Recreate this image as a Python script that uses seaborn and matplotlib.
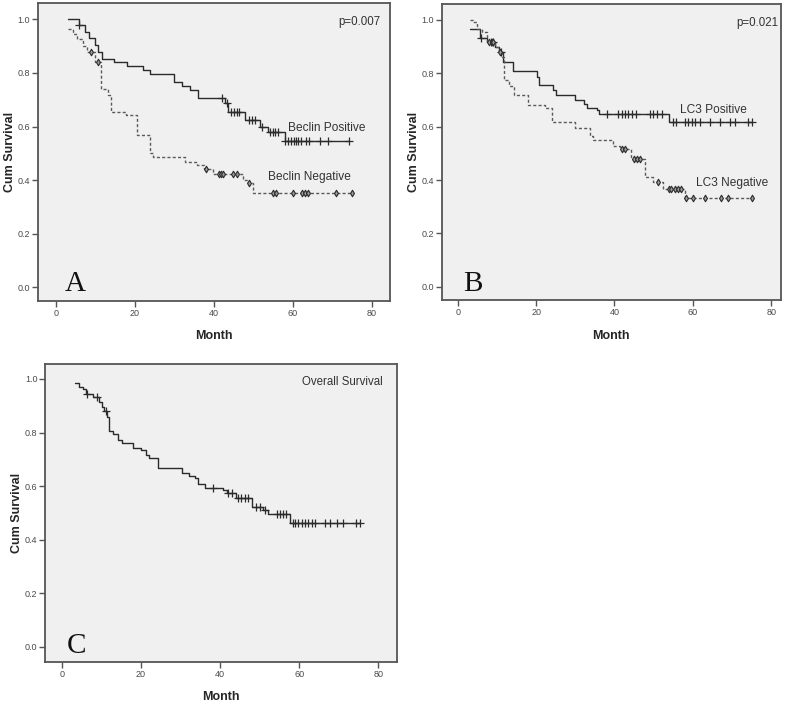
import numpy as np
import pandas as pd
import matplotlib
matplotlib.use("Agg")
import matplotlib.pyplot as plt
import seaborn as sns

sns.set_style("ticks")
plt.rcParams['font.family'] = ['Liberation Sans', 'DejaVu Sans']

# ---- data (event times / survival after step, censor times) ----
# A: Beclin
beclin_pos_t = [3.2, 6.0, 7.4, 8.3, 10.0, 10.8, 11.6, 14.8, 18.1, 22.0, 23.9, 29.9, 31.9,
                34.0, 36.1, 42.8, 43.7, 47.9, 51.7, 53.8, 57.9]
beclin_pos_s = [1.0, 0.979, 0.954, 0.93, 0.905, 0.88, 0.854, 0.84, 0.826, 0.811, 0.796, 0.767,
                0.751, 0.736, 0.705, 0.687, 0.655, 0.624, 0.599, 0.578, 0.547]
beclin_pos_c = [6.0, 42.0, 43.3, 44.3, 45.1, 45.8, 46.5, 48.8, 49.6, 50.5, 52.2, 54.3, 55.0,
                55.6, 56.3, 58.1, 58.9, 59.5, 60.2, 60.8, 61.4, 62.0, 63.4, 64.2, 66.8, 68.8, 74.3]

beclin_neg_t = [3.2, 4.3, 5.5, 7.0, 8.0, 10.0, 11.5, 13.3, 13.9, 17.8, 20.5, 23.9, 24.6, 32.7,
                35.7, 37.5, 39.9, 47.5, 48.6, 50.0]
beclin_neg_s = [0.963, 0.945, 0.925, 0.9, 0.879, 0.842, 0.742, 0.717, 0.655, 0.643, 0.568, 0.5,
                0.487, 0.469, 0.456, 0.441, 0.423, 0.4, 0.389, 0.354]
beclin_neg_c = [8.9, 10.8, 38.0, 41.2, 41.9, 42.4, 44.9, 45.8, 49.0, 54.9, 55.8, 60.0, 62.3,
                63.1, 63.9, 70.9, 74.9]

# B: LC3
lc3_pos_t = [3.1, 5.7, 7.5, 9.5, 10.6, 11.6, 14.0, 20.2, 20.8, 24.4, 25.1, 29.9, 32.2, 32.9,
             35.5, 36.1, 54.0]
lc3_pos_s = [0.966, 0.933, 0.917, 0.898, 0.879, 0.842, 0.807, 0.786, 0.755, 0.736, 0.718, 0.699,
             0.687, 0.670, 0.662, 0.646, 0.616]
lc3_pos_c = [5.9, 8.4, 9.1, 11.0, 38.0, 41.0, 41.8, 42.7, 43.5, 44.4, 45.6, 49.1, 49.9, 50.8,
             52.1, 55.0, 55.7, 58.0, 58.8, 59.7, 60.5, 61.8, 64.4, 66.9, 69.5, 70.7, 74.1, 75.0]

lc3_neg_t = [3.1, 4.0, 4.85, 6.1, 7.5, 9.5, 10.4, 11.2, 11.8, 13.2, 14.4, 18.0, 22.3, 24.0,
             29.9, 33.7, 34.6, 39.7, 41.5, 44.1, 47.8, 49.9, 52.3, 58.0]
lc3_neg_s = [1.0, 0.991, 0.966, 0.954, 0.919, 0.898, 0.879, 0.861, 0.774, 0.751, 0.72, 0.683,
             0.672, 0.616, 0.597, 0.565, 0.55, 0.528, 0.516, 0.478, 0.413, 0.394, 0.366, 0.332]
lc3_neg_c = [8.0, 8.7, 9.1, 10.8, 41.8, 42.7, 45.1, 45.8, 46.5, 51.0, 53.9, 54.5, 55.4, 56.3,
             56.9, 58.2, 60.1, 63.1, 67.1, 69.1, 75.0]

# C: overall
all_t = [3.24, 4.3, 5.4, 6.0, 7.9, 9.4, 10.0, 10.6, 11.3, 11.9, 12.9, 14.2, 15.3, 18.0, 20.1,
         21.2, 22.1, 24.2, 30.3, 32.2, 33.6, 34.5, 36.2, 40.8, 41.8, 44.0, 48.0, 50.8, 52.2, 57.7]
all_s = [0.984, 0.97, 0.961, 0.944, 0.934, 0.915, 0.897, 0.882, 0.859, 0.806, 0.795, 0.772,
         0.762, 0.744, 0.735, 0.716, 0.707, 0.667, 0.648, 0.638, 0.629, 0.610, 0.595, 0.585,
         0.575, 0.557, 0.523, 0.511, 0.496, 0.464]
all_c = [6.2, 8.9, 11.1, 38.1, 42.1, 42.9, 44.6, 45.4, 46.3, 47.1, 49.2, 50.2, 51.3, 54.3,
         55.1, 56.0, 56.8, 58.4, 59.0, 59.8, 60.7, 61.5, 62.3, 63.2, 64.0, 66.5, 67.8, 69.5,
         71.1, 74.5, 75.4]

x_ticks = [0, 20, 40, 60, 80]
y_ticks = [0.0, 0.2, 0.4, 0.6, 0.8, 1.0]

FRAME = '#555555'
DARK = '#2b2b2b'
NEG = '#5a5a5a'


def km(ax, t, s, cens, dashed=False):
    end = max(max(cens), t[-1])
    df = pd.DataFrame({'Month': list(t) + [end], 'surv': list(s) + [s[-1]]})
    sns.lineplot(data=df, x='Month', y='surv', ax=ax, drawstyle='steps-post',
                 estimator=None, sort=False, color=NEG if dashed else DARK,
                 linewidth=1.0, linestyle=(0, (2.2, 1.6)) if dashed else '-')
    cy = np.array(s)[np.searchsorted(t, cens, side='right') - 1]
    if dashed:
        sns.scatterplot(x=cens, y=cy, ax=ax, marker='d', s=11, facecolor='#9a9a9a',
                        edgecolor=DARK, linewidth=0.8, zorder=3)
    else:
        sns.scatterplot(x=cens, y=cy, ax=ax, marker='+', s=30, color=DARK,
                        linewidth=0.9, zorder=3)


def style(ax, xlim, ylim):
    ax.set_facecolor('#f0f0f0')
    ax.set_xlim(*xlim)
    ax.set_ylim(*ylim)
    ax.set_xticks(x_ticks)
    ax.set_yticks(y_ticks)
    ax.set_yticklabels([f'{v:.1f}' for v in y_ticks])
    for sp in ax.spines.values():
        sp.set_visible(True)
        sp.set_color(FRAME)
        sp.set_linewidth(1.3)
    ax.tick_params(direction='out', length=4, width=1, color=FRAME, labelsize=6.5,
                   labelcolor='#4a4a4a', pad=1.5)
    ax.set_xlabel('Month', fontsize=9, fontweight='bold', labelpad=9)
    ax.set_ylabel('Cum Survival', fontsize=9, fontweight='bold', labelpad=1)


fig = plt.figure(figsize=(7.94, 7.05), dpi=100)
axA = fig.add_axes([0.0475, 0.573, 0.4437, 0.4223])
axB = fig.add_axes([0.5563, 0.5738, 0.4273, 0.4206])
axC = fig.add_axes([0.0567, 0.061, 0.443, 0.4227])

# A
km(axA, beclin_pos_t, beclin_pos_s, beclin_pos_c)
km(axA, beclin_neg_t, beclin_neg_s, beclin_neg_c, dashed=True)
style(axA, (-4.56, 84.6), (-0.051, 1.06))
axA.text(82.1, 0.99, 'p=0.007', ha='right', va='center', fontsize=8.3, color='#333333')
axA.text(58.9, 0.596, 'Beclin Positive', ha='left', va='center', fontsize=8.6, color='#333333')
axA.text(53.6, 0.413, 'Beclin Negative', ha='left', va='center', fontsize=8.6, color='#333333')
axA.text(2.4, -0.014, 'A', ha='left', va='baseline', fontsize=21,
         family='Liberation Serif', color='#111111')

# B
km(axB, lc3_pos_t, lc3_pos_s, lc3_pos_c)
km(axB, lc3_neg_t, lc3_neg_s, lc3_neg_c, dashed=True)
style(axB, (-4.1, 82.5), (-0.051, 1.06))
axB.text(81.8, 0.99, 'p=0.021', ha='right', va='center', fontsize=8.3, color='#333333')
axB.text(56.7, 0.664, 'LC3 Positive', ha='left', va='center', fontsize=8.6, color='#333333')
axB.text(60.8, 0.388, 'LC3 Negative', ha='left', va='center', fontsize=8.6, color='#333333')
axB.text(1.3, -0.016, 'B', ha='left', va='baseline', fontsize=21,
         family='Liberation Serif', color='#111111')

# C
km(axC, all_t, all_s, all_c)
style(axC, (-4.3, 84.7), (-0.056, 1.056))
axC.text(81.2, 0.99, 'Overall Survival', ha='right', va='center', fontsize=8.3, color='#333333')
axC.text(1.1, -0.024, 'C', ha='left', va='baseline', fontsize=21,
         family='Liberation Serif', color='#111111')

fig.savefig('out.png', dpi=100, facecolor='white')
